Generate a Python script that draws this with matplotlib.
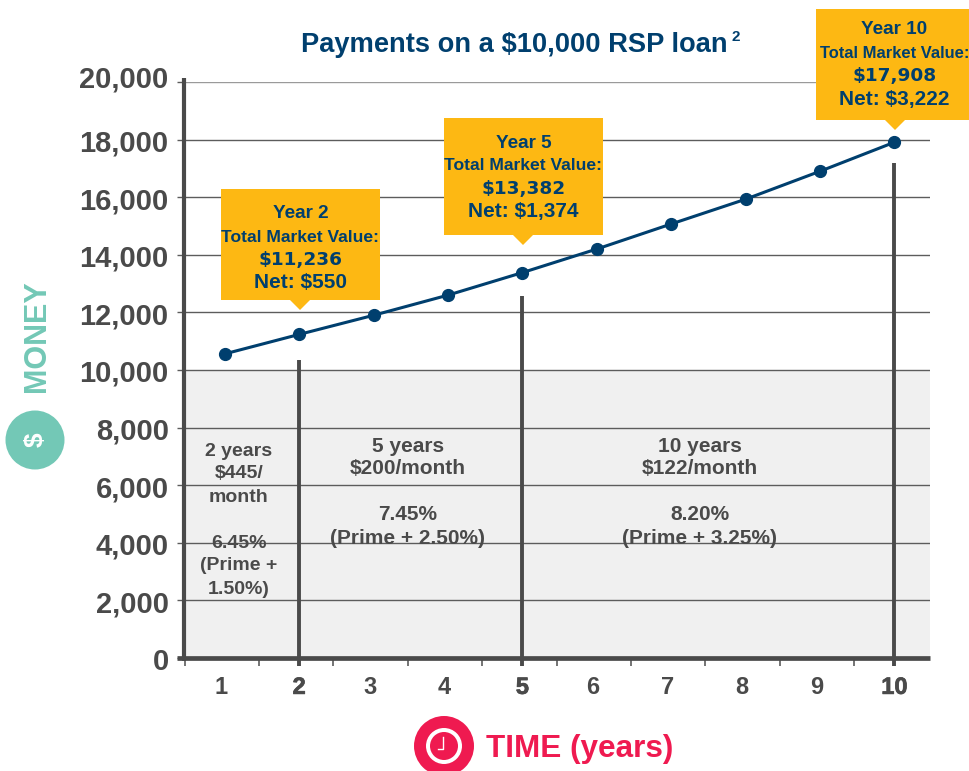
import matplotlib
matplotlib.use("Agg")
import matplotlib.pyplot as plt
import matplotlib.patheffects as pe
from matplotlib.patches import Circle, Polygon, Rectangle
from matplotlib.transforms import ScaledTranslation

plt.rcParams['font.family'] = ['Liberation Sans', 'DejaVu Sans']

# Values
years = [1, 2, 3, 4, 5, 6, 7, 8, 9, 10]
market_value = [10560, 11236, 11900, 12600, 13382, 14200, 15070, 15930, 16900, 17908]
y_ticks = [0, 2000, 4000, 6000, 8000, 10000, 12000, 14000, 16000, 18000, 20000]
term_years = [2, 5, 10]
term_tops = [10350, 12570, 17200]
callout_years = ["Year 2", "Year 5", "Year 10"]
callout_values = ["$11,236", "$13,382", "$17,908"]
callout_nets = ["Net: $550", "Net: $1,374", "Net: $3,222"]
term_lines = [
    ["2 years", "$445/", "month", "", "6.45%", "(Prime +", "1.50%)"],
    ["5 years", "$200/month", "", "7.45%", "(Prime + 2.50%)"],
    ["10 years", "$122/month", "", "8.20%", "(Prime + 3.25%)"],
]

GREY = '#4a4a4a'
NAVY = '#003f6e'
GOLD = '#fdb813'
TEAL = '#73c8b6'
RED = '#ef1a50'

W, H = 969, 771
fig = plt.figure(figsize=(W / 100, H / 100), dpi=100)

# Main axes, placed by pixel
left, right, top, bottom = 184, 930, 82, 658
ax = fig.add_axes([left / W, 1 - bottom / H, (right - left) / W, (bottom - top) / H])
ax.set_xlim((left - 150.4) / 74.4, (right - 150.4) / 74.4)
ax.set_ylim(0, 20000)
ax.patch.set_visible(False)
for side in ['top', 'right', 'left', 'bottom']:
    ax.spines[side].set_visible(False)

ax.axhspan(0, 10000, color='#f0f0f0', zorder=0, lw=0)
for v in y_ticks[1:]:
    ax.axhline(v, color='#5c5c5c' if v != 20000 else '#9a9a9a', lw=1.0, zorder=1)

# Heavy axis lines run a little past the plot area
xmin, xmax = ax.get_xlim()
ax.plot([xmin, xmin], [-100, 20150], color=GREY, lw=3, solid_capstyle='butt', clip_on=False, zorder=3)
ax.plot([xmin - 0.09, xmax], [0, 0], color=GREY, lw=3.4, solid_capstyle='butt', clip_on=False, zorder=3)

ax.set_yticks(y_ticks)
ax.set_yticklabels([f"{v:,}" for v in y_ticks], fontsize=21, fontweight='bold', color=GREY)
ax.tick_params(axis='y', length=5, width=1, color='#5c5c5c', pad=6)
for lab, v in zip(ax.get_yticklabels(), y_ticks):
    shift = 5 if v == 20000 else -1
    lab.set_transform(lab.get_transform() + ScaledTranslation(0, shift / 100, fig.dpi_scale_trans))

# Ticks sit between the years, labels sit on the years
edges = [0.46 + i for i in range(10)]
ax.set_xticks(edges)
ax.set_xticklabels([])
ax.tick_params(axis='x', length=6, width=1.2, color='#5c5c5c')
for y in years:
    bold_year = y in term_years
    txt = ax.text(y if bold_year else y - 0.05, -1020, str(y), ha='center', va='center', fontsize=17,
                  fontweight='bold', color=GREY, clip_on=False)
    if bold_year:
        txt.set_path_effects([pe.withStroke(linewidth=0.5, foreground=GREY)])

for x, t in zip(term_years, term_tops):
    ax.plot([x, x], [-280, t], color=GREY, lw=2.8, solid_capstyle='butt', zorder=2, clip_on=False)

ax.plot(years, market_value, color=NAVY, lw=2.2, marker='o', ms=8.5, zorder=4)

# Overlay in pixel coordinates for title, callouts and icons
ov = fig.add_axes([0, 0, 1, 1])
ov.set_xlim(0, W)
ov.set_ylim(H, 0)
ov.axis('off')
ov.patch.set_visible(False)

ov.text(514, 45, "Payments on a \\$10,000 RSP loan", ha='center', va='center',
        fontsize=19.6, fontweight='bold', color=NAVY)
ov.text(736, 37, "2", ha='center', va='center', fontsize=11, fontweight='bold', color=NAVY)

# Callouts
boxes = [(221, 380, 189, 300, 300), (444, 603, 118, 235, 523), (816, 969, 9, 120, 895)]
total_sizes = [12.6, 12.6, 11.9]
text_tops = [214, 143, 30]
for (x0, x1, y0, y1, tip), yr, val, net, ts, ty in zip(boxes, callout_years, callout_values, callout_nets,
                                                        total_sizes, text_tops):
    ov.add_patch(Rectangle((x0, y0), x1 - x0, y1 - y0, color=GOLD, lw=0))
    ov.add_patch(Polygon([(tip - 10, y1), (tip + 10, y1), (tip, y1 + 10)], color=GOLD, lw=0))
    cx = (x0 + x1) / 2 + (2 if x1 == W else 0)
    ov.text(cx, ty, yr, ha='center', va='center', fontsize=13.6, fontweight='bold', color=NAVY)
    ov.text(cx, ty + 23, "Total Market Value:", ha='center', va='center', fontsize=ts,
            fontweight='bold', color=NAVY)
    ov.text(cx, ty + 46, val, ha='center', va='center', fontsize=13.3, fontweight='bold',
            color=NAVY, family='DejaVu Sans')
    ov.text(cx, ty + 69, net, ha='center', va='center', fontsize=15, fontweight='bold', color=NAVY)

# Term notes in the shaded area
note_pos = [(239, 451), (408, 446), (700, 446)]
note_sizes = [14, 15, 15]
for (cx, cy), lines, fs in zip(note_pos, term_lines, note_sizes):
    for i, line in enumerate(lines):
        ov.text(cx, cy + i * 23, line.replace("$", "\\$"), ha='center', va='center', fontsize=fs,
                fontweight='bold', color=GREY)

# Money icon and label
ov.add_patch(Circle((35, 440), 29.5, color=TEAL, lw=0))
ov.text(36, 440, "\\$", rotation=90, ha='center', va='center', fontsize=19, fontweight='bold', color='white')
ov.text(37, 336, "MONEY", rotation=90, ha='center', va='center', fontsize=22, fontweight='bold', color=TEAL)

# Time icon and label
ov.add_patch(Circle((444, 746), 30, color=RED, lw=0))
ov.add_patch(Circle((444, 746), 18, color='white', lw=0))
ov.add_patch(Circle((444, 746), 14, color=RED, lw=0))
ov.plot([443, 443, 438], [737, 749, 749], color='white', lw=1)
ov.text(580, 749, "TIME (years)", ha='center', va='center', fontsize=22.7, fontweight='bold', color=RED)

fig.savefig("out.png", dpi=100)
